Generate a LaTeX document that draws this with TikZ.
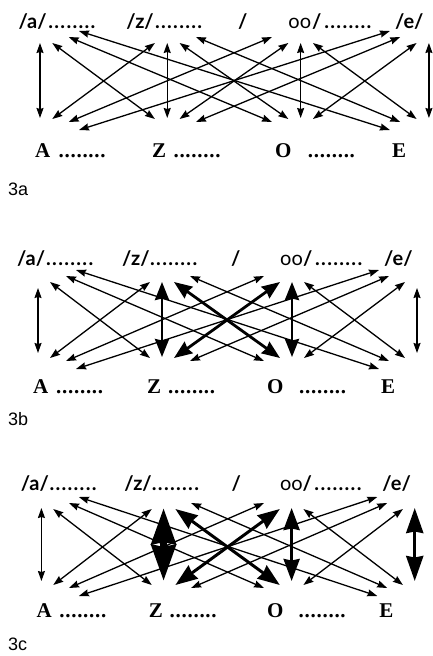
\documentclass[tikz,border=0pt]{standalone}
\usepackage{fontspec}
\setmainfont{Liberation Serif}
\newfontfamily\topfont{Lato}
\newfontfamily\capfont{Liberation Sans}
\usetikzlibrary{arrows.meta}
\tikzset{
  thinarr/.style={line width=1.3pt,{Stealth[length=10pt,width=7pt,inset=1pt]}-{Stealth[length=10pt,width=7pt,inset=1pt]}},
  medarr/.style={line width=2.8pt,{Stealth[length=18pt,width=14pt,inset=1.5pt]}-{Stealth[length=18pt,width=14pt,inset=1.5pt]}},
  thickarr/.style={line width=3pt,{Stealth[length=22pt,width=16pt,inset=1.5pt]}-{Stealth[length=22pt,width=16pt,inset=1.5pt]}},
  heavyarr/.style={line width=3.2pt,{Stealth[length=25pt,width=17pt,inset=1.5pt]}-{Stealth[length=25pt,width=17pt,inset=1.5pt]}},
  hugearr/.style={line width=7pt,{Stealth[length=36pt,width=24pt,inset=2pt]}-{Stealth[length=36pt,width=24pt,inset=2pt]}},
  toplab/.style={inner sep=0pt, anchor=base west, font=\fontsize{20}{20}\selectfont\topfont\bfseries},
  toplight/.style={inner sep=0pt, anchor=base west, font=\fontsize{20}{20}\selectfont\topfont},
  botlab/.style={inner sep=0pt, anchor=base west, font=\fontsize{21}{21}\selectfont\bfseries},
  panlab/.style={inner sep=0pt, anchor=base west, font=\fontsize{18}{18}\selectfont\capfont},
}
\newcommand\dotrow{\hbox to 47pt{.\hfil.\hfil.\hfil.\hfil.\hfil.\hfil.\hfil.}}
% #1 prefix #2 x-transform #3 y origin #4 vertical top #5 vertical bottom #6 top baseline #7 bottom baseline #8 overrides
\newcommand\panel[8]{%
\begin{scope}[#2]
\tikzset{#8}
\foreach \i/\xi in {0/38,1/162,2/292,3/417}{
  \foreach \j/\xj in {0/38,1/162,2/292,3/417}{
    \pgfmathtruncatemacro\ad{abs(\j-\i)}
    \pgfmathtruncatemacro\sg{(\j>\i)-(\j<\i)}
    \pgfmathsetmacro\dxv{{0,12,28,38}[\ad]}
    \ifnum\ad=0
      \def\tyv{#4}\def\byv{#5}
    \else
      \pgfmathsetmacro\tyv{{0,12,6,0}[\ad]}
      \pgfmathsetmacro\byv{{0,88,91,99}[\ad]}
    \fi
    \pgfmathsetmacro\txv{\xi+\sg*\dxv}
    \pgfmathsetmacro\bxv{\xj-\sg*\dxv}
    \pgfmathsetmacro\tyy{#3+\tyv}
    \pgfmathsetmacro\byy{#3+\byv}
    \coordinate (#1t\i\j) at (\txv,\tyy);
    \coordinate (#1b\j\i) at (\bxv,\byy);
    \edef\tmp{\noexpand\draw[thinarr,#1\i\j/.try] (#1t\i\j) -- (#1b\j\i);}\tmp
  }
}
\node[toplab] (#1la) at (17,#6) {/a/};
\node[toplab] (#1da) at (46,#6) {\dotrow};
\node[toplab] (#1lz) at (122,#6) {/z/};
\node[toplab] (#1dz) at (150,#6) {\dotrow};
\node[toplab] (#1sl) at (231,#6) {/};
\node[toplight] (#1oo) at (280,#6) {oo};
\node[toplab] (#1lo) at (303,#6) {/};
\node[toplab] (#1do) at (315,#6) {\dotrow};
\node[toplab] (#1le) at (384,#6) {/e/};
\node[botlab] (#1A) at (33,#7) {A};
\node[botlab] (#1dA) at (56,#7) {\dotrow};
\node[botlab] (#1Z) at (147,#7) {Z};
\node[botlab] (#1dZ) at (168,#7) {\dotrow};
\node[botlab] (#1O) at (267,#7) {O};
\node[botlab] (#1dO) at (299,#7) {\dotrow};
\node[botlab] (#1E) at (381,#7) {E};
\end{scope}}
\begin{document}
\begin{tikzpicture}[x=1pt,y=-1pt]
\useasboundingbox (0,0) rectangle (432,656);
\panel{pa}{xshift=1pt,xscale=1.026}{31}{12}{87}{28}{157}{}
\panel{pb}{}{270}{18}{83}{265}{393}{pb11/.style={medarr,shorten <=-6pt,shorten >=-4pt},pb22/.style={medarr,shorten <=-6pt,shorten >=-4pt},pb12/.style={medarr},pb21/.style={medarr}}
\panel{pc}{xshift=4pt,xscale=0.985}{497}{11}{84}{490}{617}{pc11/.style={hugearr},pc22/.style={thickarr},pc33/.style={heavyarr},pc12/.style={thickarr},pc21/.style={thickarr}}
\node[panlab] (la) at (8,195) {3a};
\node[panlab] (lb) at (8,425) {3b};
\node[panlab] (lc) at (8,650) {3c};
\end{tikzpicture}
\end{document}
